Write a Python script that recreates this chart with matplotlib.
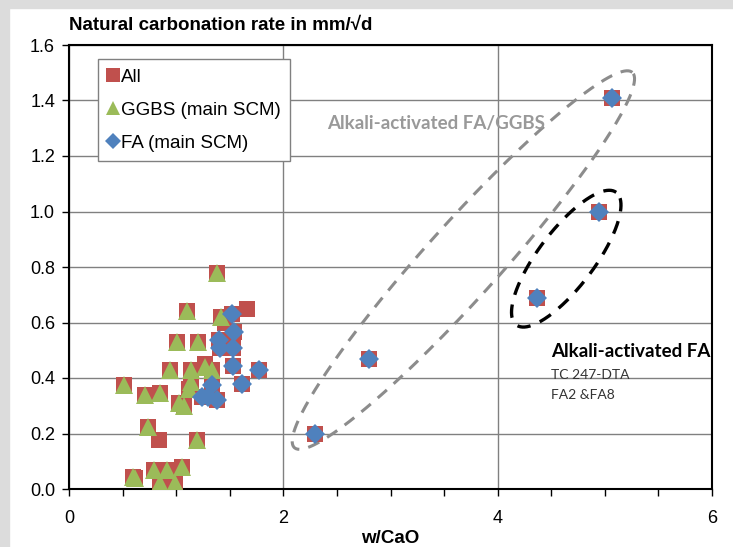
import numpy as np
import matplotlib.pyplot as plt
from matplotlib.patches import Rectangle

# points (w/CaO, carbonation rate)
ggbs_x = [1.38, 1.105, 1.42, 1.01, 1.20, 0.94, 1.14, 1.27, 1.33, 0.51, 1.14, 1.12,
          0.71, 0.85, 1.07, 1.03, 0.74, 1.19, 0.62, 0.79, 0.91, 1.05, 0.85, 0.99, 0.60]
ggbs_y = [0.78, 0.64, 0.62, 0.53, 0.53, 0.43, 0.43, 0.44, 0.43, 0.375, 0.385, 0.36,
          0.34, 0.345, 0.30, 0.31, 0.225, 0.177, 0.04, 0.068, 0.068, 0.08, 0.02, 0.02, 0.045]
fa_x = [1.52, 1.54, 1.40, 1.41, 1.53, 1.53, 1.77, 1.61, 1.33, 1.24, 1.38, 1.30,
        2.30, 2.80, 4.37, 4.95, 5.07]
fa_y = [0.63, 0.566, 0.537, 0.508, 0.508, 0.443, 0.43, 0.38, 0.375, 0.33, 0.32, 0.33,
        0.20, 0.47, 0.69, 1.00, 1.41]
other_x = [1.66, 0.84, 1.46, 1.27]
other_y = [0.65, 0.177, 0.60, 0.45]

all_x = other_x + ggbs_x + fa_x
all_y = other_y + ggbs_y + fa_y

red = '#C0504D'
green = '#9BBB59'
blue = '#4F81BD'

fig = plt.figure(figsize=(7.33, 5.47), dpi=100)
fig.patches.append(Rectangle((0, 0), 9 / 733, 1, transform=fig.transFigure,
                             color='#dcdcdc', zorder=-1))
fig.patches.append(Rectangle((0, 1 - 8 / 547), 1, 8 / 547, transform=fig.transFigure,
                             color='#dcdcdc', zorder=-1))
ax = fig.add_axes([69 / 733, 1 - 489 / 547, 643 / 733, 444 / 547])

ax.plot(all_x, all_y, 's', color=red, ms=12, mew=0, label='All', zorder=3)
ax.plot(ggbs_x, ggbs_y, '^', color=green, ms=13, mew=0, label='GGBS (main SCM)', zorder=4)
ax.plot(fa_x, fa_y, 'D', color=blue, ms=10.5, mew=0, label='FA (main SCM)', zorder=5)

ax.set_xlim(0, 6)
ax.set_ylim(0, 1.6)
ax.set_xticks([0, 2, 4, 6])
ax.set_xticks(np.arange(0, 6.01, 0.5), minor=True)
ax.set_yticks(np.arange(0, 1.61, 0.2))
ax.set_yticklabels(['%.1f' % v for v in np.arange(0, 1.61, 0.2)])
ax.grid(True, which='major', color='#808080', lw=1)
ax.set_axisbelow(True)
for s in ax.spines.values():
    s.set_linewidth(1.5)
ax.tick_params(which='both', direction='out', length=5, width=1, labelsize=13)
ax.tick_params(axis='x', pad=10)
ax.tick_params(axis='y', pad=5)
for lab in ax.get_xticklabels() + ax.get_yticklabels():
    lab.set_family('Liberation Sans')

ax.set_xlabel('w/CaO', fontsize=13.5, fontweight='bold', family='Liberation Sans', labelpad=2)
fig.text(69 / 733, 1 - 25 / 547, 'Natural carbonation rate in mm/\u221ad', fontsize=13.5,
         fontweight='bold', family='Liberation Sans', va='center', ha='left')

leg = ax.legend(loc='upper left', bbox_to_anchor=(0.045, 0.968),
                prop={'family': 'Liberation Sans', 'size': 13.5}, markerscale=0.8,
                handlelength=0.6, handletextpad=0.15, borderpad=0.5, labelspacing=0.85,
                borderaxespad=0, fancybox=False, framealpha=1, edgecolor='#808080')
leg.get_frame().set_linewidth(1)


def dashed_ellipse(cx, cy, length, width, angle, color, lw):
    # ellipse defined in screen pixels so it keeps its shape on the unequal axes
    bb = ax.get_window_extent()
    sx = bb.width / 6.0
    sy = bb.height / 1.6
    t = np.linspace(0, 2 * np.pi, 300)
    a = np.radians(angle)
    px = length / 2 * np.cos(t) * np.cos(a) - width / 2 * np.sin(t) * np.sin(a)
    py = length / 2 * np.cos(t) * np.sin(a) + width / 2 * np.sin(t) * np.cos(a)
    ax.plot(cx + px / sx, cy + py / sy, '--', color=color, lw=lw, dashes=(4, 3), zorder=2)


dashed_ellipse(3.68, 0.825, 505, 74, 48, '#8c8c8c', 2.2)
dashed_ellipse(4.64, 0.83, 166, 56, 53, 'black', 2.4)

ax.text(2.41, 1.317, 'Alkali-activated FA/GGBS', color='#999999', fontsize=13.5,
        fontweight='bold', family='Lato', va='center', ha='left')
ax.text(4.5, 0.495, 'Alkali-activated FA', color='black', fontsize=13.5,
        fontweight='bold', family='Lato', va='center', ha='left')
ax.text(4.5, 0.41, 'TC 247-DTA', color='#333333', fontsize=10, family='Lato',
        va='center', ha='left')
ax.text(4.5, 0.338, 'FA2 &FA8', color='#333333', fontsize=10, family='Lato',
        va='center', ha='left')

fig.savefig('out.png', dpi=100)
